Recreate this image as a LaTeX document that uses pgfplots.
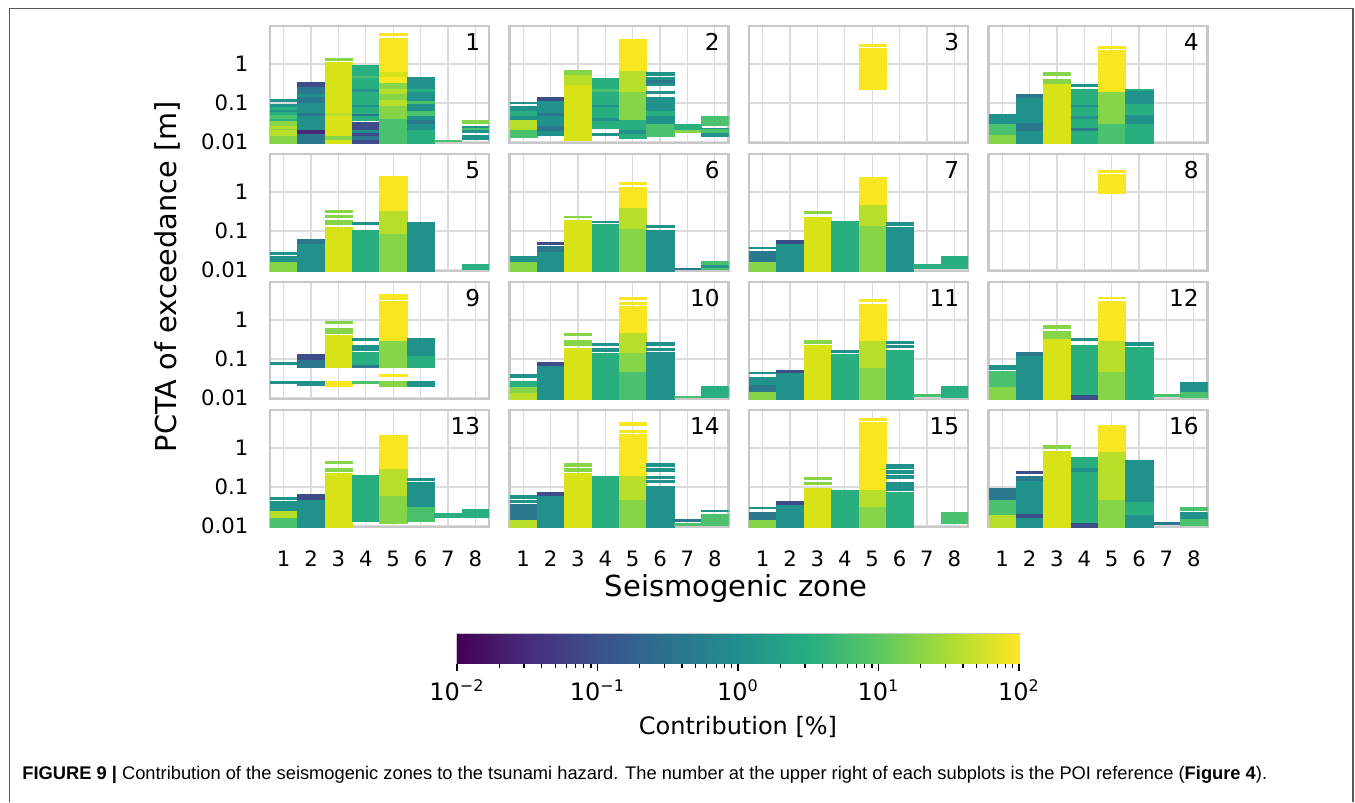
\documentclass[border=0pt]{standalone}
\usepackage{pgfplots}
\pgfplotsset{compat=1.18}
\usepackage{pgfplotstable}
\usepackage{fontspec}
\setmainfont{DejaVu Sans}
\newfontfamily\capfont{Liberation Sans}

\definecolor{vP}{HTML}{482878}
\definecolor{vB}{HTML}{3E4C8A}
\definecolor{vTB}{HTML}{2A788E}
\definecolor{vT}{HTML}{21918C}
\definecolor{vGT}{HTML}{29AF7F}
\definecolor{vG}{HTML}{4AC16D}
\definecolor{vLG}{HTML}{86D549}
\definecolor{vYG}{HTML}{B8DE29}
\definecolor{vYL}{HTML}{D8E219}
\definecolor{vY}{HTML}{F8E621}
\definecolor{gridc}{HTML}{DCDCDC}
\definecolor{framec}{HTML}{C8C8C8}

% x = seismogenic zone, lo/hi = PCTA range [m], c = colour class (contribution)
\pgfplotstableread{
x lo hi c
1 0.0095 0.035 vLG
1 0.035 0.094 vGT
1 0.015 0.02 vYG
1 0.022 0.025 vYG
1 0.04 0.048 vG
1 0.06 0.066 vT
1 0.08 0.094 vT
1 0.112 0.124 vT
2 0.0095 0.35 vTB
2 0.02 0.1 vT
2 0.017 0.0195 vP
2 0.05 0.055 vTB
2 0.15 0.17 vT
2 0.27 0.35 vB
3 0.0095 1.1 vYL
3 0.012 0.014 vLG
3 0.05 0.055 vYG
3 1.28 1.4 vLG
4 0.0095 0.032 vB
4 0.012 0.014 vTB
4 0.018 0.02 vT
4 0.036 0.92 vGT
4 0.048 0.053 vTB
4 0.08 0.088 vT
4 0.2 0.22 vT
4 0.45 0.5 vG
5 0.0095 0.04 vG
5 0.04 0.35 vLG
5 0.35 4.5 vY
5 0.09 0.12 vYG
5 0.18 0.22 vYG
5 0.5 0.6 vYL
5 5.4 6.0 vY
6 0.0095 0.45 vT
6 0.0095 0.02 vGT
6 0.03 0.035 vTB
6 0.05 0.06 vG
6 0.1 0.11 vG
6 0.2 0.22 vGT
7 0.0102 0.0113 vG
8 0.031 0.035 vLG
8 0.018 0.026 vT
8 0.021 0.023 vG
8 0.0115 0.0148 vT
}\Pone
\pgfplotstableread{
x lo hi c
1 0.0135 0.021 vG
1 0.021 0.037 vYG
1 0.037 0.082 vT
1 0.05 0.06 vGT
1 0.098 0.108 vT
2 0.0154 0.143 vT
2 0.02 0.025 vTB
2 0.05 0.055 vTB
2 0.12 0.143 vB
3 0.011 0.69 vYL
3 0.3 0.55 vYG
3 0.55 0.69 vLG
4 0.023 0.44 vGT
4 0.035 0.04 vT
4 0.08 0.09 vT
4 0.2 0.23 vG
4 0.0154 0.017 vT
5 0.0127 0.037 vGT
5 0.037 0.2 vLG
5 0.2 0.7 vYG
5 0.7 4.45 vY
5 0.016 0.02 vT
6 0.0145 0.03 vG
6 0.03 0.143 vT
6 0.05 0.06 vGT
6 0.18 0.2 vT
6 0.295 0.455 vT
6 0.35 0.38 vTB
6 0.53 0.61 vT
7 0.0216 0.029 vGT
7 0.0177 0.02 vLG
8 0.027 0.045 vG
8 0.0145 0.023 vT
8 0.018 0.021 vG
}\Ptwo
\pgfplotstableread{
x lo hi c
5 0.23 2.5 vY
5 2.95 3.3 vY
}\Pthree
\pgfplotstableread{
x lo hi c
1 0.0095 0.03 vG
1 0.0095 0.015 vLG
1 0.03 0.053 vT
2 0.0095 0.17 vT
2 0.02 0.03 vTB
2 0.14 0.17 vTB
3 0.0095 0.4 vYL
3 0.33 0.4 vLG
3 0.53 0.61 vLG
4 0.0095 0.23 vGT
4 0.02 0.022 vTB
4 0.04 0.045 vT
4 0.08 0.09 vT
4 0.27 0.3 vT
5 0.0095 0.03 vG
5 0.03 0.2 vLG
5 0.2 2.33 vY
5 2.6 2.95 vY
6 0.0095 0.22 vGT
6 0.03 0.05 vT
6 0.1 0.2 vT
}\Pfour
\pgfplotstableread{
x lo hi c
1 0.0095 0.016 vLG
1 0.016 0.022 vT
1 0.026 0.029 vT
2 0.0095 0.061 vT
2 0.05 0.061 vTB
3 0.0095 0.124 vYL
3 0.15 0.19 vLG
3 0.226 0.26 vLG
3 0.3 0.35 vLG
4 0.0095 0.106 vGT
4 0.146 0.165 vT
5 0.0095 0.09 vLG
5 0.09 0.35 vYG
5 0.35 2.54 vY
6 0.0095 0.122 vT
6 0.133 0.165 vT
8 0.0104 0.014 vGT
}\Pfive
\pgfplotstableread{
x lo hi c
1 0.0095 0.016 vLG
1 0.016 0.022 vT
2 0.0095 0.04 vT
2 0.03 0.04 vTB
2 0.047 0.053 vB
3 0.0095 0.19 vYL
3 0.22 0.245 vLG
4 0.0095 0.148 vGT
4 0.163 0.18 vT
5 0.0095 0.12 vLG
5 0.12 0.4 vYG
5 0.4 1.37 vY
5 1.6 1.8 vY
6 0.0095 0.106 vT
6 0.124 0.14 vT
7 0.0104 0.011 vTB
8 0.0104 0.0166 vG
8 0.012 0.013 vT
}\Psix
\pgfplotstableread{
x lo hi c
1 0.0095 0.017 vLG
1 0.017 0.03 vTB
1 0.036 0.039 vT
2 0.0095 0.059 vT
2 0.05 0.059 vB
3 0.0095 0.22 vYL
3 0.29 0.33 vLG
4 0.0095 0.183 vGT
5 0.0095 0.14 vLG
5 0.14 0.5 vYG
5 0.5 2.4 vY
6 0.0095 0.124 vT
6 0.142 0.163 vT
7 0.0113 0.0145 vGT
8 0.0113 0.022 vGT
}\Pseven
\pgfplotstableread{
x lo hi c
5 0.92 2.8 vY
5 3.25 3.7 vY
}\Peight
\pgfplotstableread{
x lo hi c
1 0.074 0.085 vT
1 0.024 0.027 vT
2 0.06 0.127 vTB
2 0.1 0.127 vB
2 0.021 0.027 vT
3 0.06 0.4 vYL
3 0.47 0.61 vLG
3 0.82 0.94 vLG
3 0.02 0.027 vY
4 0.3 0.35 vT
4 0.17 0.22 vT
4 0.06 0.146 vGT
4 0.06 0.07 vTB
4 0.024 0.027 vG
5 0.06 0.3 vLG
5 0.3 3.05 vY
5 3.4 4.5 vY
5 0.035 0.041 vY
5 0.02 0.027 vLG
6 0.06 0.35 vT
6 0.06 0.12 vGT
6 0.02 0.027 vT
}\Pnine
\pgfplotstableread{
x lo hi c
1 0.0095 0.014 vYG
1 0.014 0.02 vLG
1 0.02 0.027 vGT
1 0.033 0.04 vT
2 0.0095 0.07 vT
2 0.07 0.082 vB
3 0.0095 0.19 vYL
3 0.23 0.3 vLG
3 0.4 0.45 vLG
4 0.0095 0.14 vGT
4 0.155 0.19 vT
4 0.23 0.26 vT
5 0.0095 0.05 vG
5 0.05 0.15 vLG
5 0.15 0.5 vYG
5 0.5 2.28 vY
5 2.6 2.9 vY
5 3.5 3.9 vY
6 0.0095 0.148 vT
6 0.17 0.195 vT
6 0.23 0.27 vT
7 0.0105 0.011 vG
8 0.0105 0.0195 vGT
}\Pten
\pgfplotstableread{
x lo hi c
1 0.0095 0.015 vLG
1 0.015 0.022 vTB
1 0.022 0.034 vT
1 0.042 0.046 vT
2 0.0095 0.045 vT
2 0.045 0.053 vB
3 0.0095 0.23 vYL
3 0.26 0.3 vLG
4 0.0095 0.13 vGT
4 0.15 0.17 vT
5 0.0095 0.06 vLG
5 0.06 0.3 vYG
5 0.3 2.57 vY
5 3.07 3.45 vY
6 0.0095 0.167 vGT
6 0.2 0.225 vT
6 0.26 0.29 vT
7 0.0114 0.0128 vG
8 0.0105 0.0195 vGT
}\Peleven
\pgfplotstableread{
x lo hi c
1 0.0095 0.02 vLG
1 0.02 0.048 vG
1 0.055 0.07 vT
2 0.0095 0.125 vT
2 0.125 0.148 vTB
3 0.0095 0.35 vYL
3 0.35 0.53 vLG
3 0.62 0.72 vLG
4 0.0095 0.22 vGT
4 0.0095 0.012 vB
4 0.3 0.35 vT
5 0.0095 0.05 vLG
5 0.05 0.3 vYG
5 0.3 3.0 vY
5 3.6 3.96 vY
6 0.0095 0.2 vGT
6 0.23 0.27 vT
7 0.0114 0.0128 vG
8 0.0105 0.026 vT
8 0.0105 0.014 vG
}\Ptwelve
\pgfplotstableread{
x lo hi c
1 0.0095 0.016 vG
1 0.016 0.025 vYG
1 0.025 0.042 vT
1 0.049 0.056 vT
2 0.0095 0.05 vT
2 0.05 0.064 vB
3 0.0095 0.22 vYL
3 0.26 0.3 vLG
3 0.41 0.47 vLG
4 0.0135 0.2 vGT
5 0.012 0.06 vLG
5 0.06 0.3 vYG
5 0.3 2.18 vY
6 0.0135 0.13 vT
6 0.0135 0.03 vG
6 0.15 0.17 vT
7 0.0165 0.021 vGT
8 0.016 0.027 vGT
}\Pthirteen
\pgfplotstableread{
x lo hi c
1 0.0095 0.015 vYG
1 0.015 0.036 vTB
1 0.04 0.046 vT
1 0.053 0.06 vT
2 0.0095 0.06 vT
2 0.06 0.072 vB
3 0.0095 0.23 vYL
3 0.26 0.3 vLG
3 0.35 0.4 vLG
4 0.0095 0.195 vGT
5 0.0095 0.05 vLG
5 0.05 0.2 vYG
5 0.2 2.2 vY
5 2.5 2.95 vY
5 3.95 4.5 vY
6 0.0095 0.108 vT
6 0.13 0.15 vT
6 0.17 0.195 vT
6 0.26 0.3 vT
6 0.35 0.4 vT
7 0.0134 0.0152 vTB
7 0.0105 0.0115 vG
8 0.0235 0.026 vT
8 0.0105 0.02 vG
}\Pfourteen
\pgfplotstableread{
x lo hi c
1 0.0095 0.015 vLG
1 0.015 0.023 vTB
1 0.028 0.031 vT
2 0.0095 0.035 vT
2 0.035 0.042 vB
3 0.0095 0.096 vYL
3 0.115 0.13 vLG
3 0.155 0.175 vLG
4 0.0095 0.084 vGT
5 0.0095 0.09 vYG
5 0.0095 0.03 vLG
5 0.09 4.5 vY
5 5.2 5.8 vY
6 0.0095 0.074 vGT
6 0.085 0.13 vT
6 0.17 0.2 vT
6 0.23 0.265 vT
6 0.31 0.39 vT
8 0.0117 0.023 vG
}\Pfifteen
\pgfplotstableread{
x lo hi c
1 0.0095 0.02 vYG
1 0.02 0.05 vG
1 0.05 0.093 vTB
2 0.0095 0.19 vT
2 0.016 0.02 vB
2 0.15 0.19 vTB
2 0.22 0.25 vB
3 0.0095 0.85 vYL
3 1.0 1.15 vLG
4 0.0095 0.145 vGT
4 0.0095 0.012 vB
4 0.16 0.58 vGT
4 0.25 0.3 vT
5 0.0095 0.05 vLG
5 0.05 0.85 vYG
5 0.85 3.96 vY
6 0.0095 0.49 vT
6 0.02 0.04 vGT
7 0.0113 0.0128 vTB
8 0.026 0.03 vG
8 0.0105 0.022 vT
8 0.0105 0.015 vG
}\Psixteen

% each table row -> one \addplot rectangle; the y axis is in log10 units
\newcommand\buildbars[2]{%
  \begingroup
  \gdef#2{}%
  \pgfplotstablegetrowsof{#1}%
  \pgfmathtruncatemacro\nrows{\pgfplotsretval-1}%
  \pgfplotsforeachungrouped \rowi in {0,...,\nrows}{%
    \pgfplotstablegetelem{\rowi}{x}\of{#1}\let\bx\pgfplotsretval
    \pgfplotstablegetelem{\rowi}{lo}\of{#1}\let\blo\pgfplotsretval
    \pgfplotstablegetelem{\rowi}{hi}\of{#1}\let\bhi\pgfplotsretval
    \pgfplotstablegetelem{\rowi}{c}\of{#1}\let\bc\pgfplotsretval
    \pgfmathsetmacro\xa{\bx-0.5}\pgfmathsetmacro\xb{\bx+0.5}%
    \pgfmathsetmacro\ya{log10(\blo)}\pgfmathsetmacro\yb{log10(\bhi)}%
    \xdef#2{\unexpanded\expandafter{#2}\noexpand\addplot[fill=\bc, draw=\bc, line width=0.15pt, forget plot] coordinates {(\xa,\ya) (\xb,\ya) (\xb,\yb) (\xa,\yb)};}%
  }%
  \endgroup
}
\buildbars{\Pone}\Aone
\buildbars{\Ptwo}\Atwo
\buildbars{\Pthree}\Athree
\buildbars{\Pfour}\Afour
\buildbars{\Pfive}\Afive
\buildbars{\Psix}\Asix
\buildbars{\Pseven}\Aseven
\buildbars{\Peight}\Aeight
\buildbars{\Pnine}\Anine
\buildbars{\Pten}\Aten
\buildbars{\Peleven}\Aeleven
\buildbars{\Ptwelve}\Atwelve
\buildbars{\Pthirteen}\Athirteen
\buildbars{\Pfourteen}\Afourteen
\buildbars{\Pfifteen}\Afifteen
\buildbars{\Psixteen}\Asixteen

\pgfplotsset{
  mypanel/.style={
    scale only axis, width=109.5pt, height=58.5pt, anchor=north west,
    xmin=0.5, xmax=8.5, ymin=-2.026, ymax=0.974,
    xtick={1,2,3,4,5,6,7,8}, ytick={-2,-1,0},
    grid=major, major grid style={gridc, line width=0.6pt},
    axis line style={framec, line width=1.1pt},
    major tick length=0pt,
    xticklabels={}, yticklabels={},
    tick label style={font=\fontsize{10.6}{12}\selectfont, black},
    yticklabel style={xshift=-7.3pt},
    xticklabel style={yshift=-8.3pt},
  },
  myylab/.style={yticklabels={0.01,0.1,1}},
  myxlab/.style={xticklabels={1,2,3,4,5,6,7,8}},
}
\newcommand\panelnum[1]{\node[anchor=north east, inner sep=0pt, xshift=-4.2pt, yshift=-3.4pt,
  font=\fontsize{11.6}{13}\selectfont] at (rel axis cs:1,1) {#1};}

\begin{document}
\begin{tikzpicture}
\path (0,0) rectangle (677.5pt,-401pt);
\draw[black!65, line width=0.7pt] (4.6pt,-401pt) -- (4.6pt,-4.2pt) -- (676.4pt,-4.2pt) -- (676.4pt,-401pt);

% row 1
\begin{axis}[mypanel, myylab, at={(135pt,-13pt)}]
\Aone\panelnum{1}
\end{axis}
\begin{axis}[mypanel, at={(254.75pt,-13pt)}]
\Atwo\panelnum{2}
\end{axis}
\begin{axis}[mypanel, at={(374.5pt,-13pt)}]
\Athree\panelnum{3}
\end{axis}
\begin{axis}[mypanel, at={(494.25pt,-13pt)}]
\Afour\panelnum{4}
\end{axis}
% row 2
\begin{axis}[mypanel, myylab, at={(135pt,-77pt)}]
\Afive\panelnum{5}
\end{axis}
\begin{axis}[mypanel, at={(254.75pt,-77pt)}]
\Asix\panelnum{6}
\end{axis}
\begin{axis}[mypanel, at={(374.5pt,-77pt)}]
\Aseven\panelnum{7}
\end{axis}
\begin{axis}[mypanel, at={(494.25pt,-77pt)}]
\Aeight\panelnum{8}
\end{axis}
% row 3
\begin{axis}[mypanel, myylab, at={(135pt,-141pt)}]
\Anine\panelnum{9}
\end{axis}
\begin{axis}[mypanel, at={(254.75pt,-141pt)}]
\Aten\panelnum{10}
\end{axis}
\begin{axis}[mypanel, at={(374.5pt,-141pt)}]
\Aeleven\panelnum{11}
\end{axis}
\begin{axis}[mypanel, at={(494.25pt,-141pt)}]
\Atwelve\panelnum{12}
\end{axis}
% row 4
\begin{axis}[mypanel, myylab, myxlab, at={(135pt,-205pt)}]
\Athirteen\panelnum{13}
\end{axis}
\begin{axis}[mypanel, myxlab, at={(254.75pt,-205pt)}]
\Afourteen\panelnum{14}
\end{axis}
\begin{axis}[mypanel, myxlab, at={(374.5pt,-205pt)}]
\Afifteen\panelnum{15}
\end{axis}
\begin{axis}[mypanel, myxlab, at={(494.25pt,-205pt)}]
\Asixteen\panelnum{16}
\end{axis}

\node[rotate=90, font=\fontsize{14.4}{17}\selectfont] at (83.75pt,-138.25pt) {PCTA of exceedance [m]};
\node[font=\fontsize{14.5}{17}\selectfont] at (368pt,-294pt) {Seismogenic zone};

% colour bar (x in log10 of contribution)
\begin{axis}[scale only axis, width=281pt, height=14.5pt, anchor=north west, at={(228.5pt,-317pt)},
  xmin=-2, xmax=2, ymin=0, ymax=1, ytick=\empty,
  xtick={-2,-1,0,1,2},
  minor xtick={-1.69897,-1.52288,-1.39794,-1.30103,-1.22185,-1.15490,-1.09691,-1.04576,
    -0.69897,-0.52288,-0.39794,-0.30103,-0.22185,-0.15490,-0.09691,-0.04576,
    0.30103,0.47712,0.60206,0.69897,0.77815,0.84510,0.90309,0.95424,
    1.30103,1.47712,1.60206,1.69897,1.77815,1.84510,1.90309,1.95424},
  xticklabels={10\textsuperscript{−2},10\textsuperscript{−1},10\textsuperscript{0},10\textsuperscript{1},10\textsuperscript{2}},
  xticklabel style={font=\fontsize{12}{14}\selectfont, yshift=-1pt},
  tick align=outside, xtick pos=left, major tick length=3.9pt, minor tick length=2.3pt,
  tick style={black, line width=0.6pt},
  axis line style={framec, line width=1pt},
  colormap={vir}{rgb255=(68,1,84) rgb255=(71,44,122) rgb255=(59,81,139) rgb255=(44,113,142) rgb255=(33,144,141) rgb255=(39,173,129) rgb255=(92,200,99) rgb255=(170,220,50) rgb255=(253,231,37)},
  point meta min=-2, point meta max=2]
\addplot[surf, shader=interp, point meta=explicit] table[meta=c] {
x y c
-2 0 -2
2 0 2

-2 1 -2
2 1 2
};
\end{axis}
\node[font=\fontsize{12}{14}\selectfont] at (369pt,-363.5pt) {Contribution [\%]};

\node[anchor=west, inner sep=0pt, font=\capfont\fontsize{9.15}{11}\selectfont] at (11pt,-387.5pt)
  {\textbf{FIGURE 9 |} Contribution of the seismogenic zones to the tsunami hazard. The number at the upper right of each subplots is the POI reference (\textbf{Figure 4}).};
\end{tikzpicture}
\end{document}
